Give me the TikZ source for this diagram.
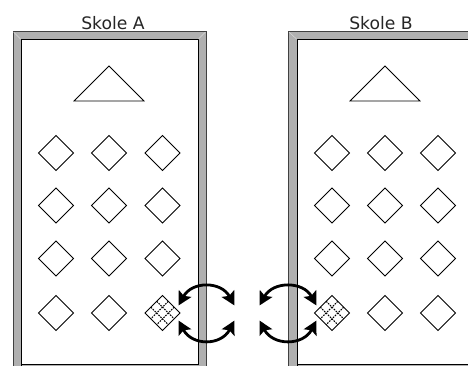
\documentclass[tikz,border=0pt]{standalone}
\usepackage{fontspec}
\setmainfont{DejaVu Sans}
\usetikzlibrary{shapes.geometric,arrows.meta,calc}
\definecolor{wallgray}{HTML}{B0B0B0}
\tikzset{
  wall/.style={fill=wallgray,draw=black!75,line width=0.8pt},
  inner/.style={fill=white,draw=black,line width=0.9pt},
  seat/.style={draw=black,line width=0.8pt,fill=white,diamond,minimum width=35pt,minimum height=35pt,inner sep=0pt,outer sep=0pt},
  board/.style={draw=black,line width=0.8pt,line join=miter},
  grid/.style={draw=black,line width=1pt,dash pattern=on 1.6pt off 1.1pt},
  swap/.style={draw=black,line width=2.8pt,{Stealth[length=13.5pt,width=14pt,inset=2.5pt]}-{Stealth[length=13.5pt,width=14pt,inset=2.5pt]}},
  title/.style={font=\fontsize{17.2}{20}\selectfont,text=black!85,inner sep=0pt}
}
\newcommand{\gridseat}[1]{%
  \foreach \k in {0.333,0.667}{
    \draw[grid] ($(#1.north)!\k!(#1.east)$) -- ($(#1.west)!\k!(#1.south)$);
    \draw[grid] ($(#1.north)!\k!(#1.west)$) -- ($(#1.east)!\k!(#1.south)$);
  }}
\begin{document}
\begin{tikzpicture}[x=1pt,y=-1pt]
\useasboundingbox (0,0) rectangle (468,365);
\fill[white] (0,0) rectangle (468,365);
% left school
\path[wall] (13,367) -- (13,31.5) -- (206,31.5) -- (206,367) -- cycle;
\path[inner] (21,367) -- (21,39.5) -- (198,39.5) -- (198,364) -- (21,364);
\draw[white!85!black,line width=0.5pt] (13.5,32) -- (20.5,39) (205.5,32) -- (198.5,39);
% right school
\path[wall] (288.5,367) -- (288.5,31.5) -- (470,31.5) -- (470,367) -- cycle;
\path[inner] (297,367) -- (297,39.5) -- (470,39.5) -- (470,364) -- (297,364);
\draw[white!85!black,line width=0.5pt] (289,32) -- (296.5,39);
\node[title] (ta) at (113,23) {Skole A};
\node[title] (tb) at (381,23) {Skole B};
\draw[board] (109,66) -- (144,101) -- (74,101) -- cycle;
\draw[board] (385,66) -- (420,101) -- (350,101) -- cycle;
\foreach \r/\y in {1/153,2/205.5,3/258.5,4/313}{
  \foreach \c/\xa/\xb in {1/56/332,2/109/385,3/162.5/438}{
    \node[seat] (a\r\c) at (\xa,\y) {};
    \node[seat] (b\r\c) at (\xb,\y) {};
  }
}
\gridseat{a43}
\gridseat{b41}
% arrows
\coordinate (l1) at (178.5,305.5); \coordinate (l2) at (234.5,305.5);
\coordinate (l3) at (178.5,320.5); \coordinate (l4) at (234.5,320.5);
\coordinate (r1) at (259.5,305.5); \coordinate (r2) at (316.5,305.5);
\coordinate (r3) at (259.5,320.5); \coordinate (r4) at (316.5,320.5);
\draw[swap] (l1) .. controls (192,281) and (221,281) .. (l2);
\draw[swap] (l3) .. controls (192,346) and (221,346) .. (l4);
\draw[swap] (r1) .. controls (273,281) and (303,281) .. (r2);
\draw[swap] (r3) .. controls (273,346) and (303,346) .. (r4);
\end{tikzpicture}
\end{document}
